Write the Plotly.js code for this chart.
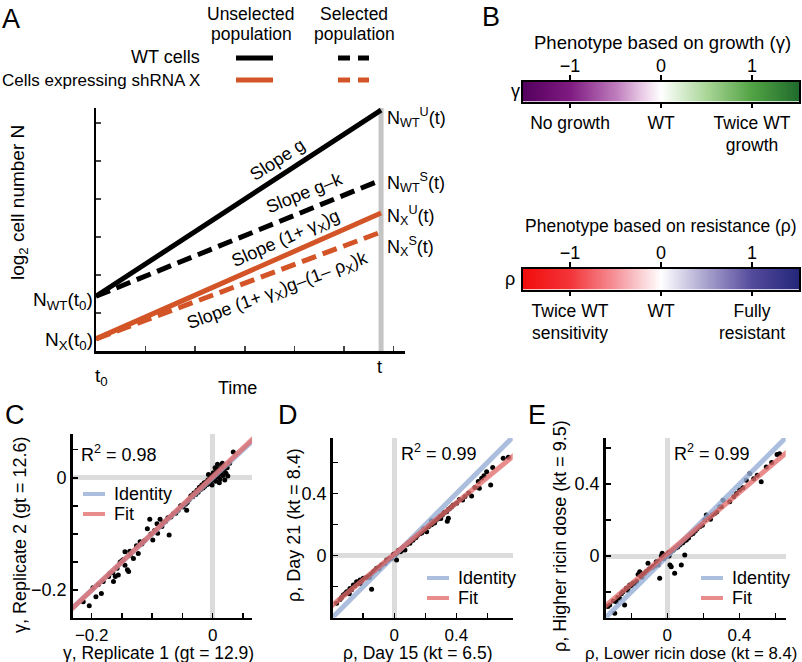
<!DOCTYPE html>
<html><head><meta charset="utf-8">
<script src="https://cdn.plot.ly/plotly-3.0.1.min.js"></script>
<style>html,body{margin:0;padding:0;background:#fff}#chart{width:802px;height:662px}</style>
</head><body><div id="chart"></div>
<script>
const W = 802, H = 662;
const FONT = 'Liberation Sans, Arial, Helvetica, sans-serif';
const FS = 18;

// ---------- Panel A : growth model ----------
const timeA = [0, 1];                       // t0, t
const log2N_WT_unselected = [1.44, 6.34];
const log2N_WT_selected   = [1.44, 4.50];
const log2N_X_unselected  = [0.32, 3.63];
const log2N_X_selected    = [0.32, 3.13];
const tLine_time = [1, 1];
const tLine_log2N = [0, 6.4];

// ---------- Panel B : phenotype scales ----------
const gammaScale = [-1.52, -1, -0.5, 0, 0.5, 1, 1.52];
const rhoScale   = [-1.52, -1, -0.5, 0, 0.5, 1, 1.52];
const scaleTicks = [-1, 0, 1];
const scaleTickText = ['\u22121', '0', '1'];
const gammaLabels = ['No growth', 'WT', 'Twice WT<br>growth'];
const rhoLabels = ['Twice WT<br>sensitivity', 'WT', 'Fully<br>resistant'];

// ---------- Panel C : gamma replicates ----------
const gammaRep1 = [0.034,0.028,0.024,0.022,0.019,0.017,0.015,0.013,0.012,0.010,0.009,0.007,0.006,0.005,0.003,0.002,0.001,0.000,-0.002,-0.003,-0.005,-0.006,-0.008,-0.009,-0.011,-0.013,-0.014,-0.016,-0.018,-0.020,-0.022,-0.024,-0.026,-0.028,-0.031,-0.033,-0.036,-0.039,-0.042,0.020,0.016,0.004,-0.001,0.011,0.025,-0.007,0.008,-0.045,-0.049,-0.043,-0.053,-0.057,-0.061,-0.065,-0.069,-0.074,-0.078,-0.104,-0.087,-0.108,-0.092,-0.084,-0.072,-0.099,-0.091,-0.096,-0.113,-0.120,-0.126,-0.137,-0.145,-0.123,-0.131,-0.136,-0.153,-0.145,-0.141,-0.139,-0.156,-0.161,-0.165,-0.164,-0.172,-0.181,-0.184,-0.193,-0.198,-0.214,-0.204,-0.150,-0.170,-0.189,-0.158,-0.117,-0.102,-0.082,-0.148];
const gammaRep2 = [0.046,0.026,0.018,0.008,0.013,0.004,0.020,0.010,-0.002,0.006,0.016,0.002,0.011,-0.006,0.005,-0.002,0.009,0.002,-0.005,0.004,-0.002,-0.010,-0.004,-0.012,-0.008,-0.015,-0.009,-0.018,-0.013,-0.021,-0.017,-0.026,-0.022,-0.030,-0.027,-0.034,-0.032,-0.039,-0.044,-0.004,0.026,0.018,-0.013,-0.009,0.003,0.006,0.024,-0.047,-0.052,-0.058,-0.050,-0.058,-0.063,-0.064,-0.070,-0.071,-0.078,-0.074,-0.074,-0.091,-0.082,-0.087,-0.102,-0.111,-0.099,-0.094,-0.112,-0.114,-0.121,-0.131,-0.132,-0.135,-0.144,-0.138,-0.150,-0.156,-0.164,-0.167,-0.173,-0.176,-0.169,-0.185,-0.176,-0.185,-0.206,-0.212,-0.196,-0.221,-0.228,-0.148,-0.170,-0.190,-0.161,-0.118,-0.100,-0.080,-0.146];
const lineC_x = [-0.26, 0.09];
const identityC_y = [-0.26, 0.09];
const fitC_y = [-0.261, 0.093];
const r2C = '0.98';

// ---------- Panel D : rho day 15 vs day 21 ----------
const rhoDay15 = [0.736,0.703,0.635,0.622,0.596,0.579,0.564,0.549,0.542,0.520,0.499,0.480,0.456,0.441,0.420,0.402,0.381,0.370,0.359,0.349,0.342,0.338,0.325,0.310,0.295,0.280,0.265,0.252,0.240,0.230,0.220,0.209,0.200,0.188,0.177,0.165,0.150,0.140,0.128,0.112,0.101,0.090,0.080,0.069,0.060,0.050,0.037,0.028,0.015,0.004,-0.017,0.015,-0.005,-0.030,-0.049,-0.060,-0.081,-0.095,-0.114,-0.125,-0.135,-0.150,-0.168,-0.180,-0.200,-0.210,-0.221,-0.232,-0.243,-0.255,-0.264,-0.275,-0.286,-0.296,-0.307,-0.318,-0.329,-0.340,-0.350,-0.372,-0.146,-0.290,-0.220,-0.160,-0.100,-0.040,0.045,0.120,0.190,0.260,0.300,0.320,0.350,0.240];
const rhoDay21 = [0.635,0.628,0.568,0.456,0.542,0.516,0.499,0.435,0.478,0.440,0.385,0.405,0.381,0.359,0.362,0.338,0.327,0.315,0.306,0.241,0.222,0.284,0.280,0.262,0.255,0.236,0.225,0.218,0.200,0.198,0.186,0.155,0.172,0.160,0.147,0.142,0.131,0.118,0.112,0.101,0.080,0.083,0.070,0.037,0.058,0.048,0.026,0.035,0.015,0.004,-0.017,-0.028,0.010,-0.018,-0.028,-0.050,-0.060,-0.075,-0.081,-0.095,-0.103,-0.120,-0.135,-0.140,-0.146,-0.160,-0.157,-0.180,-0.168,-0.195,-0.189,-0.220,-0.211,-0.232,-0.232,-0.245,-0.254,-0.270,-0.283,-0.307,-0.217,-0.245,-0.180,-0.140,-0.085,-0.030,0.030,0.100,0.175,0.210,0.240,0.275,0.300,0.225];
const lineD_x = [-0.42, 0.78];
const identityD_y = [-0.42, 0.78];
const fitD_y = [-0.336, 0.653];
const r2D = '0.99';

// ---------- Panel E : rho lower vs higher ricin dose ----------
const rhoLowDose = [0.624,0.610,0.580,0.550,0.522,0.500,0.480,0.458,0.439,0.420,0.402,0.384,0.370,0.347,0.310,0.300,0.291,0.275,0.263,0.250,0.240,0.228,0.217,0.208,0.195,0.180,0.165,0.155,0.143,0.130,0.118,0.106,0.095,0.097,0.085,0.078,0.069,0.058,0.048,0.041,0.033,0.022,0.015,0.020,0.008,0.002,-0.010,-0.028,-0.033,-0.020,-0.042,-0.045,-0.061,-0.070,-0.085,-0.100,-0.107,-0.115,-0.125,-0.135,-0.145,-0.153,-0.162,-0.170,-0.181,-0.190,-0.200,-0.209,-0.218,-0.228,-0.237,-0.246,-0.255,-0.265,-0.275,-0.283,-0.292,-0.300,-0.320,-0.330,-0.060,-0.015,0.010,-0.050,-0.080,-0.140,-0.220];
const rhoHighDose = [0.570,0.565,0.520,0.496,0.413,0.450,0.430,0.459,0.422,0.380,0.367,0.348,0.330,0.302,0.311,0.275,0.274,0.245,0.237,0.230,0.205,0.215,0.228,0.200,0.172,0.163,0.150,0.140,0.126,0.118,0.100,0.089,0.084,0.006,0.072,-0.050,0.061,0.050,0.045,-0.096,0.033,-0.059,-0.050,0.022,0.018,0.005,-0.005,0.015,0.000,-0.015,-0.124,-0.030,-0.031,-0.055,-0.065,-0.072,-0.040,-0.085,-0.095,-0.100,-0.115,-0.087,-0.103,-0.140,-0.152,-0.150,-0.165,-0.161,-0.180,-0.179,-0.272,-0.198,-0.210,-0.235,-0.230,-0.254,-0.318,-0.250,-0.272,-0.280,-0.045,0.005,0.000,-0.050,-0.060,-0.118,-0.190];
const lineE_x = [-0.36, 0.68];
const identityE_y = [-0.36, 0.68];
const fitE_y = [-0.291, 0.591];
const r2E = '0.99';

// ---------- styles ----------
const BLACK = '#000000';
const ORANGE = '#d35426';
const IDCOL = 'rgba(150,174,214,0.8)';
const FITCOL = 'rgba(226,108,108,0.78)';
const gammaColors = [[0,'#54005e'],[0.171,'#7f1b82'],[0.336,'#bf7dbd'],[0.434,'#ebcfe8'],[0.5,'#ffffff'],[0.566,'#dcefd4'],[0.664,'#a9d697'],[0.829,'#52a344'],[1,'#1f6a2c']];
const rhoColors = [[0,'#f20c0c'],[0.171,'#f33539'],[0.336,'#f5959c'],[0.434,'#fbd6d9'],[0.5,'#ffffff'],[0.566,'#dcd9ec'],[0.664,'#a7a1cd'],[0.829,'#544a9c'],[1,'#232679']];

const px = x => x / W;
const py = y => 1 - y / H;

const traces = [];
// Panel A
traces.push({x: tLine_time, y: tLine_log2N, mode:'lines', line:{color:'#c4c4c4', width:5}, xaxis:'x', yaxis:'y', hoverinfo:'skip', showlegend:false});
traces.push({x: timeA, y: log2N_WT_unselected, mode:'lines', line:{color:BLACK, width:5}, xaxis:'x', yaxis:'y', showlegend:false});
traces.push({x: timeA, y: log2N_WT_selected, mode:'lines', line:{color:BLACK, width:5, dash:'15px,7px'}, xaxis:'x', yaxis:'y', showlegend:false});
traces.push({x: timeA, y: log2N_X_unselected, mode:'lines', line:{color:ORANGE, width:5}, xaxis:'x', yaxis:'y', showlegend:false});
traces.push({x: timeA, y: log2N_X_selected, mode:'lines', line:{color:ORANGE, width:5, dash:'15px,7px'}, xaxis:'x', yaxis:'y', showlegend:false});

function scatterPanel(xs, ys, lx, idy, fity, xa, ya) {
  traces.push({x: xs, y: ys, mode:'markers', marker:{color:BLACK, size:5}, xaxis:xa, yaxis:ya, showlegend:false});
  traces.push({x: lx, y: idy, mode:'lines', line:{color:IDCOL, width:5}, xaxis:xa, yaxis:ya, showlegend:false, name:'Identity'});
  traces.push({x: lx, y: fity, mode:'lines', line:{color:FITCOL, width:5}, xaxis:xa, yaxis:ya, showlegend:false, name:'Fit'});
}
scatterPanel(gammaRep1, gammaRep2, lineC_x, identityC_y, fitC_y, 'x2', 'y2');
scatterPanel(rhoDay15, rhoDay21, lineD_x, identityD_y, fitD_y, 'x3', 'y3');
scatterPanel(rhoLowDose, rhoHighDose, lineE_x, identityE_y, fitE_y, 'x4', 'y4');

// Panel B heatmaps (+ empty traces holding the overlay label axes)
traces.push({type:'heatmap', x: gammaScale, y:[0,1], z:[gammaScale, gammaScale], zmin:-1.52, zmax:1.52, zsmooth:'best', colorscale: gammaColors, showscale:false, xaxis:'x5', yaxis:'y5', hoverinfo:'skip'});
traces.push({type:'scatter', x:[], y:[], xaxis:'x6', yaxis:'y5', showlegend:false});
traces.push({type:'scatter', x:[], y:[], xaxis:'x9', yaxis:'y5', showlegend:false});
traces.push({type:'heatmap', x: rhoScale, y:[0,1], z:[rhoScale, rhoScale], zmin:-1.52, zmax:1.52, zsmooth:'best', colorscale: rhoColors, showscale:false, xaxis:'x7', yaxis:'y7', hoverinfo:'skip'});
traces.push({type:'scatter', x:[], y:[], xaxis:'x8', yaxis:'y7', showlegend:false});
traces.push({type:'scatter', x:[], y:[], xaxis:'x10', yaxis:'y7', showlegend:false});

// ---------- axes ----------
function sAxis(d0, d1, range, tickvals, ticktext, minorvals, anchor, vertical) {
  return {domain: vertical ? [py(d1), py(d0)] : [px(d0), px(d1)], range, anchor,
    showline:true, linecolor:BLACK, linewidth:2.5, ticks:'inside', ticklen:5, tickwidth:1.5, tickcolor:BLACK,
    tickvals, ticktext, minor:{tickvals:minorvals, ticks:'inside', ticklen:5, tickwidth:1.5, tickcolor:BLACK, showgrid:false},
    showgrid:false, zeroline:true, zerolinecolor:'#dcdcdc', zerolinewidth:5,
    tickfont:{size: vertical ? FS : 17, color:BLACK}, fixedrange:true, automargin:false};
}
const cTicks = [-0.2, 0];
const cText = ['\u22120.2', '0'];
const cMinor = [-0.15, -0.1, -0.05, 0.05];
const dTicks = [0, 0.4];
const dText = ['0', '0.4'];
const dMinor = [-0.2, 0.2, 0.6];

function barAxes(d0, d1, y0, y1, labels) {
  // frame + top tick marks
  const top = {domain:[px(d0), px(d1)], range:[-1.52,1.52], side:'top', tickvals:scaleTicks, showticklabels:false,
    ticks:'outside', ticklen:5, tickwidth:2, tickcolor:BLACK, showline:true, mirror:true, linewidth:2, linecolor:BLACK,
    showgrid:false, zeroline:false, fixedrange:true, automargin:false};
  // numeric labels above
  const topLabels = {range:[-1.52,1.52], side:'top', tickvals:scaleTicks, ticktext:scaleTickText,
    ticks:'outside', ticklen:1, tickcolor:'rgba(0,0,0,0)',
    showline:false, showgrid:false, zeroline:false, tickfont:{size:FS}, fixedrange:true, automargin:false};
  const yax = {domain:[py(y1), py(y0)], range:[-0.5,1.5], showline:true, mirror:true, linewidth:2, linecolor:BLACK,
    showticklabels:false, ticks:'', showgrid:false, zeroline:false, fixedrange:true, automargin:false};
  const bottom = {range:[-1.52,1.52], side:'bottom', tickvals:scaleTicks, ticktext:labels,
    ticks:'outside', ticklen:5, tickwidth:2, tickcolor:BLACK, showline:false, showgrid:false, zeroline:false,
    tickfont:{size:17.5}, fixedrange:true, automargin:false};
  return [top, yax, bottom, topLabels];
}
const [gx, gy, gx2, gx3] = barAxes(522.7, 799.3, 81.5, 101.5, gammaLabels);
const [rx, ry, rx2, rx3] = barAxes(522.7, 799.3, 268.5, 289.5, rhoLabels);

const layout = {
  width: W, height: H, margin:{l:0,r:0,t:0,b:0}, paper_bgcolor:'#fff', plot_bgcolor:'rgba(0,0,0,0)',
  font:{family:FONT, size:FS, color:BLACK}, showlegend:false,
  xaxis:{domain:[px(96), px(405)], range:[0,1.084], anchor:'y', showline:true, linewidth:2.5, linecolor:BLACK,
    ticks:'inside', tick0:0, dtick:0.174, ticklen:5, tickwidth:1.5, showticklabels:false, showgrid:false, zeroline:false, fixedrange:true},
  yaxis:{domain:[py(351), py(108)], range:[0,6.395], anchor:'x', showline:true, linewidth:2.5, linecolor:BLACK,
    ticks:'inside', tick0:0, dtick:1, ticklen:5, tickwidth:1.5, showticklabels:false, showgrid:false, zeroline:false, fixedrange:true},
  xaxis2: sAxis(72.7, 252, [-0.2314, 0.065], cTicks, cText, cMinor, 'y2'),
  yaxis2: sAxis(434, 617.7, [-0.2493, 0.078], cTicks, cText, cMinor, 'x2', true),
  xaxis3: sAxis(332.7, 512.7, [-0.397, 0.764], dTicks, dText, dMinor, 'y3'),
  yaxis3: sAxis(438, 617.7, [-0.4, 0.759], dTicks, dText, dMinor, 'x3', true),
  xaxis4: sAxis(605.7, 785.7, [-0.342, 0.658], dTicks, dText, dMinor, 'y4'),
  yaxis4: sAxis(438, 617.7, [-0.343, 0.657], dTicks, dText, dMinor, 'x4', true),
  xaxis5: Object.assign(gx, {anchor:'y5'}),
  yaxis5: Object.assign(gy, {anchor:'x5'}),
  xaxis6: Object.assign(gx2, {overlaying:'x5', anchor:'y5'}),
  xaxis9: Object.assign(gx3, {overlaying:'x5', anchor:'y5'}),
  xaxis7: Object.assign(rx, {anchor:'y7'}),
  yaxis7: Object.assign(ry, {anchor:'x7'}),
  xaxis8: Object.assign(rx2, {overlaying:'x7', anchor:'y7'}),
  xaxis10: Object.assign(rx3, {overlaying:'x7', anchor:'y7'}),
  annotations: [], shapes: []
};

function ann(text, x, y, o) {
  layout.annotations.push(Object.assign({text, x:px(x), y:py(y), xref:'paper', yref:'paper', showarrow:false,
    xanchor:'center', yanchor:'middle', font:{size:FS, color:BLACK}}, o || {}));
}
function seg(x0, x1, y, color, dash, width) {
  layout.shapes.push({type:'line', xref:'paper', yref:'paper', x0:px(x0), x1:px(x1), y0:py(y), y1:py(y),
    line:{color, width: width || 5, dash: dash || 'solid'}});
}

// panel letters
[['A',11,19],['B',491,17],['C',15,415],['D',288,415],['E',537,415]].forEach(([t,x,y]) => ann(t, x, y, {font:{size:27}}));

// Panel A texts
ann('Unselected', 251, 13.5, {font:{size:17.5}}); ann('population', 251, 33.5, {font:{size:17.5}});
ann('Selected', 354, 13.5, {font:{size:17.5}}); ann('population', 354, 33.5, {font:{size:17.5}});
ann('WT cells', 202, 57, {xanchor:'right'});
ann('Cells expressing shRNA X', 202, 80, {xanchor:'right', font:{size:17}});
seg(236, 273, 58, BLACK); seg(338, 369, 58, BLACK, '12px,8px');
seg(236, 273, 80, ORANGE); seg(338, 369, 80, ORANGE, '12px,8px');
ann('log<sub>2</sub> cell number N', 19, 203, {textangle:-90, font:{size:19}});
ann('N<sub>WT</sub>(t<sub>0</sub>)', 95, 301, {xanchor:'right', font:{size:19}});
ann('N<sub>X</sub>(t<sub>0</sub>)', 95, 341, {xanchor:'right', font:{size:19}});
ann('t<sub>0</sub>', 93, 377, {xanchor:'left', font:{size:19}});
ann('t', 379, 367);
ann('Time', 237, 388);
ann('N<sub>WT</sub><sup>U</sup>(t)', 385, 117, {xanchor:'left'});
ann('N<sub>WT</sub><sup>S</sup>(t)', 385, 183, {xanchor:'left'});
ann('N<sub>X</sub><sup>U</sup>(t)', 385, 216, {xanchor:'left'});
ann('N<sub>X</sub><sup>S</sup>(t)', 385, 246, {xanchor:'left'});
ann('Slope g', 277, 160, {textangle:-33});
ann('Slope g\u2013k', 304, 193, {textangle:-22});
ann('Slope (1+ \u03b3<sub>X</sub>)g', 286, 239, {textangle:-24});
ann('Slope (1+ \u03b3<sub>X</sub>)g\u2013(1\u2013 \u03c1<sub>X</sub>)k', 278, 291, {textangle:-20.5});

// Panel B texts
ann('Phenotype based on growth (\u03b3)', 662, 42, {font:{size:18.5}});
ann('\u03b3', 515, 91);
ann('Phenotype based on resistance (\u03c1)', 661, 226, {font:{size:17.5}});
ann('\u03c1', 510, 279);

// Panels C-E texts
ann('R<sup>2</sup> = ' + r2C, 119, 453);
ann('R<sup>2</sup> = ' + r2D, 439, 452);
ann('R<sup>2</sup> = ' + r2E, 712, 452);
[[83,112,494],[427,456,578],[701,730,578]].forEach(([l, t, y]) => {
  seg(l, l + 22, y, IDCOL, 'solid', 4); ann('Identity', t, y, {xanchor:'left'});
  seg(l, l + 22, y + 20, FITCOL, 'solid', 4); ann('Fit', t, y + 20, {xanchor:'left'});
});
ann('\u03b3, Replicate 1 (gt = 12.9)', 158, 653, {font:{size:17.5}});
ann('\u03b3, Replicate 2 (gt = 12.6)', 20, 535, {textangle:-90});
ann('\u03c1, Day 15 (kt = 6.5)', 418, 653, {font:{size:17.5}});
ann('\u03c1, Day 21 (kt = 8.4)', 294, 525, {textangle:-90});
ann('\u03c1, Lower ricin dose (kt = 8.4)', 691, 653, {font:{size:16.8}});
ann('\u03c1, Higher ricin dose (kt = 9.5)', 560, 536, {textangle:-90});

Plotly.newPlot('chart', traces, layout, {staticPlot:true, displayModeBar:false});
</script></body></html>
